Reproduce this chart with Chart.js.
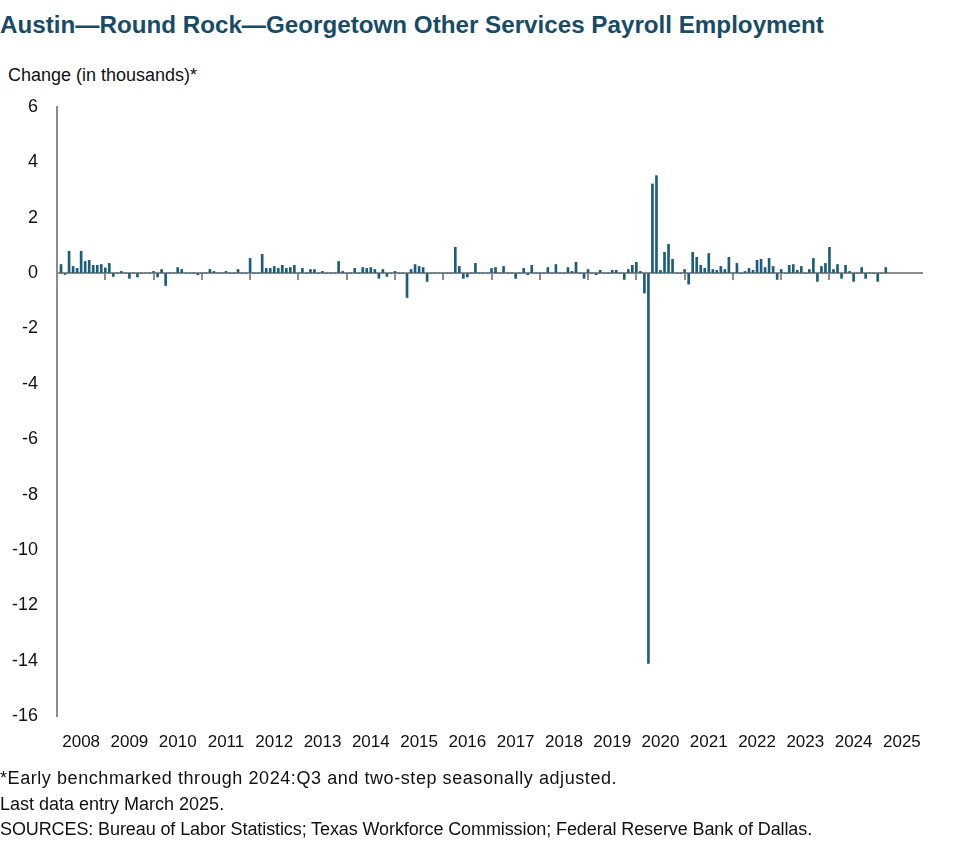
<!DOCTYPE html>
<html>
<head>
<meta charset="utf-8">
<script src="https://cdn.jsdelivr.net/npm/chart.js@4.4.0/dist/chart.umd.min.js"></script>
<style>
  body { margin: 0; width: 977px; height: 864px; background: #fff; position: relative; overflow: hidden;
         font-family: "Liberation Sans", Arial, sans-serif; color: #111; }
  .title { position: absolute; left: 0; top: 11px; font-size: 24.2px; font-weight: bold; color: #184c66; white-space: nowrap; }
  .unit { position: absolute; left: 8px; top: 65px; font-size: 18px; }
  .notes { position: absolute; left: 0; top: 766px; font-size: 18px; line-height: 25.5px; white-space: nowrap; }
  .wide { letter-spacing: 0.57px; }
  .narrow { letter-spacing: -0.1px; }
  #wrap { position: absolute; left: 0; top: 90px; width: 977px; height: 680px; }
</style>
</head>
<body>
<div class="title">Austin—Round Rock—Georgetown Other Services Payroll Employment</div>
<div class="unit">Change (in thousands)*</div>
<div id="wrap"><canvas id="chart" width="977" height="680"></canvas></div>
<div class="notes"><div class="wide">*Early benchmarked through 2024:Q3 and two-step seasonally adjusted.</div><div>Last data entry March 2025.</div><div class="narrow">SOURCES: Bureau of Labor Statistics; Texas Workforce Commission; Federal Reserve Bank of Dallas.</div></div>
<script>
var years = ['2008', '2009', '2010', '2011', '2012', '2013', '2014', '2015', '2016',
             '2017', '2018', '2019', '2020', '2021', '2022', '2023', '2024', '2025'];

// monthly change in thousands, Jan 2008 - Mar 2025
var change = [
  null, 0.31, -0.05, 0.79, 0.24, 0.17, 0.79, 0.42, 0.46, 0.28, 0.28, 0.31,   // 2008
  0.19, 0.35, -0.12, 0, 0.06, 0, -0.19, 0, -0.14, 0, 0, 0,                  // 2009
  0.06, -0.14, 0.13, -0.45, 0, 0, 0.2, 0.13, 0, 0, 0, -0.06,                // 2010
  0, 0, 0.13, 0.06, 0, 0, 0.06, 0, 0, 0.13, 0, 0,                           // 2011
  0.53, 0, 0, 0.68, 0.17, 0.17, 0.24, 0.17, 0.28, 0.17, 0.2, 0.28,          // 2012
  0, 0.17, 0, 0.13, 0.13, 0, 0.06, 0, 0, 0, 0.42, 0.06,                     // 2013
  0, 0, 0.17, 0, 0.2, 0.17, 0.2, 0.13, -0.19, 0.13, -0.12, 0,               // 2014
  0.06, 0, 0, -0.88, 0.13, 0.31, 0.24, 0.2, -0.3, 0, 0, 0,                  // 2015
  0, 0, 0, 0.93, 0.24, -0.19, -0.14, 0, 0.35, 0, 0, 0,                      // 2016
  0.17, 0.2, 0, 0.24, 0, 0, -0.19, 0, 0.17, -0.06, 0.28, 0,                 // 2017
  0, 0, 0.2, 0, 0.31, 0, 0, 0.2, 0.06, 0.39, 0, -0.19,                      // 2018
  0.13, 0, -0.06, 0.1, 0, 0, 0.1, 0.1, 0, -0.23, 0.13, 0.28,                // 2019
  0.39, 0.06, -0.72, -14.1, 3.22, 3.52, 0.1, 0.75, 1.04, 0.5, 0, 0,         // 2020
  0.13, -0.4, 0.75, 0.57, 0.28, 0.17, 0.71, 0.13, 0.1, 0.24, 0.13, 0.57,    // 2021
  0, 0.35, 0, 0.06, 0.17, 0.1, 0.46, 0.5, 0.2, 0.53, 0.24, -0.23,           // 2022
  0.13, 0, 0.28, 0.31, 0.1, 0.24, 0, 0.13, 0.53, -0.3, 0.24, 0.35,          // 2023
  0.93, 0.13, 0.31, -0.19, 0.28, 0.06, -0.3, 0, 0.2, -0.19, 0, 0,           // 2024
  -0.3, 0, 0.2                                                              // 2025
];

var yMin = -16, yMax = 6, yStep = 2;

var labels = [];
for (var y = 0; y < years.length; y++) {
  for (var m = 1; m <= 12; m++) {
    labels.push(years[y] + '-' + (m < 10 ? '0' + m : m));
  }
}
var series = [];
for (var i = 0; i < labels.length; i++) {
  series.push(i < change.length ? change[i] : null);
}

var axisGray = '#8c8c8c';
Chart.defaults.font.family = '"Liberation Sans", Arial, sans-serif';
Chart.defaults.color = '#111';

new Chart(document.getElementById('chart'), {
  type: 'bar',
  data: {
    labels: labels,
    datasets: [{
      data: series,
      backgroundColor: '#1c5d7c',
      barThickness: 2,
      xAxisID: 'x',
      yAxisID: 'y'
    }]
  },
  options: {
    responsive: false,
    animation: false,
    layout: { padding: { top: 17, right: 55, left: 0, bottom: 0 } },
    plugins: { legend: { display: false }, tooltip: { enabled: false } },
    scales: {
      x: {
        type: 'category',
        position: 'bottom',
        offset: false,
        grid: { display: false, drawTicks: false, offset: false },
        border: { display: false },
        ticks: {
          autoSkip: false, maxRotation: 0, minRotation: 0, padding: 16,
          font: { size: 17 },
          callback: function(v, i) { return i % 12 === 6 ? years[Math.floor(i / 12)] : null; }
        },
        afterFit: function(s) { s.height = 54; }
      },
      x2: {
        type: 'category',
        position: { y: 0 },
        offset: false,
        grid: {
          drawOnChartArea: false, offset: false, tickLength: 6, lineWidth: 2,
          color: function(c) { return c.index % 12 === 0 ? axisGray : 'rgba(0,0,0,0)'; }
        },
        border: { display: true, color: axisGray, width: 2 },
        ticks: { display: false }
      },
      y: {
        min: yMin, max: yMax,
        ticks: { stepSize: yStep, padding: 5, font: { size: 18 } },
        grid: { drawOnChartArea: false, drawTicks: true, tickLength: 14, tickColor: 'rgba(0,0,0,0)' },
        border: { color: axisGray, width: 2 },
        afterFit: function(s) { s.width = 57; }
      }
    }
  }
});
</script>
</body>
</html>
